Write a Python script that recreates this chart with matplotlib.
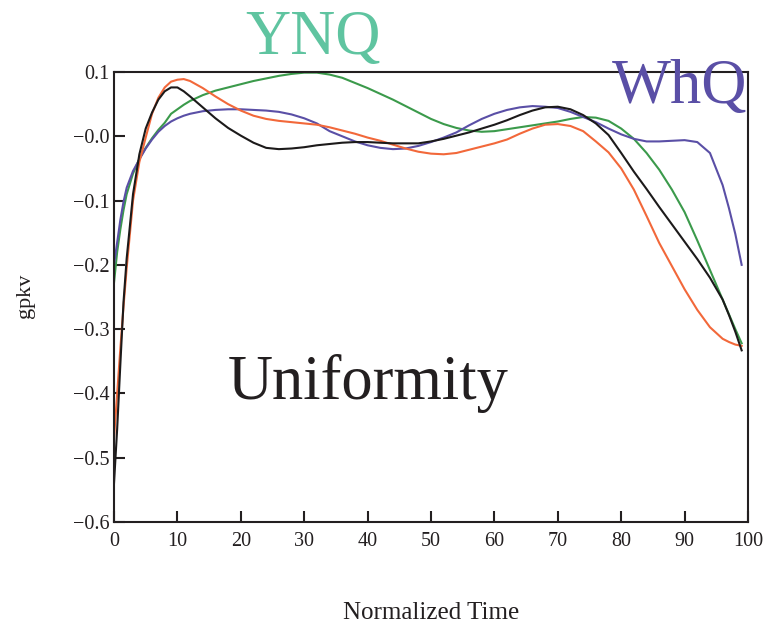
import matplotlib
matplotlib.use("Agg")
import matplotlib.pyplot as plt

plt.rcParams['font.family'] = ['Liberation Serif', 'DejaVu Serif']

# Normalized time samples shared by every curve
time = [0, 0.5, 1, 1.5, 2, 3, 4, 5, 6, 7, 8, 9, 10, 11, 12, 14, 16, 18, 20,
        22, 24, 26, 28, 30, 32, 34, 36, 38, 40, 42, 44, 46, 48, 50, 52, 54,
        56, 58, 60, 62, 64, 66, 68, 70, 72, 74, 76, 78, 80, 82, 84, 86, 88,
        90, 92, 94, 96, 97, 98, 99]

black_vals = [-0.540, -0.455, -0.355, -0.258, -0.190, -0.090, -0.028, 0.012,
              0.037, 0.057, 0.070, 0.076, 0.076, 0.070, 0.062, 0.045, 0.028,
              0.013, 0.001, -0.010, -0.018, -0.020, -0.019, -0.017, -0.014,
              -0.012, -0.010, -0.009, -0.009, -0.010, -0.011, -0.011, -0.011,
              -0.008, -0.004, 0.001, 0.006, 0.012, 0.018, 0.025, 0.033, 0.040,
              0.045, 0.046, 0.042, 0.033, 0.020, 0.002, -0.026, -0.055,
              -0.082, -0.110, -0.137, -0.164, -0.191, -0.220, -0.254, -0.278,
              -0.304, -0.333]

orange_vals = [-0.470, -0.400, -0.330, -0.265, -0.205, -0.100, -0.040, -0.002,
               0.035, 0.060, 0.076, 0.085, 0.088, 0.089, 0.086, 0.075, 0.062,
               0.050, 0.040, 0.032, 0.027, 0.024, 0.022, 0.020, 0.018, 0.014,
               0.009, 0.004, -0.002, -0.007, -0.013, -0.019, -0.024, -0.027,
               -0.028, -0.026, -0.021, -0.016, -0.011, -0.005, 0.004, 0.012,
               0.018, 0.019, 0.016, 0.008, -0.008, -0.025, -0.050, -0.083,
               -0.124, -0.166, -0.202, -0.238, -0.270, -0.297, -0.315, -0.320,
               -0.324, -0.326]

green_vals = [-0.228, -0.180, -0.145, -0.115, -0.090, -0.058, -0.035, -0.018,
              -0.003, 0.010, 0.021, 0.035, 0.042, 0.049, 0.055, 0.064, 0.071,
              0.076, 0.081, 0.086, 0.090, 0.094, 0.097, 0.099, 0.099, 0.096,
              0.091, 0.083, 0.075, 0.066, 0.057, 0.047, 0.037, 0.027, 0.019,
              0.013, 0.009, 0.007, 0.008, 0.011, 0.014, 0.017, 0.020, 0.023,
              0.027, 0.030, 0.029, 0.024, 0.012, -0.004, -0.026, -0.052,
              -0.083, -0.118, -0.162, -0.208, -0.254, -0.277, -0.300, -0.322]

blue_vals = [-0.200, -0.165, -0.130, -0.102, -0.080, -0.054, -0.036, -0.019,
             -0.005, 0.007, 0.016, 0.023, 0.028, 0.032, 0.035, 0.039, 0.041,
             0.042, 0.042, 0.041, 0.040, 0.038, 0.034, 0.028, 0.020, 0.008,
             0.000, -0.008, -0.014, -0.018, -0.020, -0.019, -0.015, -0.009,
             -0.002, 0.006, 0.017, 0.027, 0.035, 0.041, 0.045, 0.047, 0.046,
             0.044, 0.038, 0.030, 0.022, 0.012, 0.003, -0.004, -0.008,
             -0.008, -0.007, -0.006, -0.009, -0.026, -0.076, -0.112, -0.152,
             -0.200]

x_ticks = [0, 10, 20, 30, 40, 50, 60, 70, 80, 90, 100]
y_ticks = [0.1, 0.0, -0.1, -0.2, -0.3, -0.4, -0.5, -0.6]
y_tick_labels = ["0.1", "\u22120.0", "\u22120.1", "\u22120.2", "\u22120.3",
                 "\u22120.4", "\u22120.5", "\u22120.6"]

ink = "#231f20"
series = [
    (green_vals, "#3b9a4b"),
    (blue_vals, "#5a4fa6"),
    (orange_vals, "#f2683a"),
    (black_vals, "#1c1a1a"),
]

fig = plt.figure(figsize=(7.66, 6.23), dpi=100)
ax = fig.add_axes([114 / 766, 1 - 522 / 623, 634 / 766, 450 / 623])

for vals, color in series:
    ax.plot(time, vals, color=color, lw=1.5, solid_joinstyle="round")

ax.set_xlim(0, 100)
ax.set_ylim(-0.6, 0.1)
ax.set_xticks(x_ticks)
ax.set_xticklabels([str(t) for t in x_ticks])
ax.set_yticks(y_ticks)
ax.set_yticklabels(y_tick_labels)

for side in ["left", "bottom", "top", "right"]:
    ax.spines[side].set_linewidth(1.5)
    ax.spines[side].set_color(ink)

ax.tick_params(axis="both", direction="in", length=8, width=1.5,
               colors=ink, labelsize=14.5)
ax.tick_params(axis="x", pad=7)
ax.tick_params(axis="y", pad=3.5)

# Axis titles
fig.text(25 / 766, 1 - 296 / 623, "gpkv", rotation=90, ha="center",
         va="center", fontsize=16, color=ink)
fig.text(431 / 766, 1 - 619 / 623, "Normalized Time", ha="center",
         va="baseline", fontsize=18, color=ink)

# Large annotations
fig.text(313 / 766, 1 - 54 / 623, "YNQ", ha="center", va="baseline",
         fontsize=45, color="#5fc4a0")
fig.text(680 / 766, 1 - 103 / 623, "WhQ", ha="center", va="baseline",
         fontsize=45, color="#5a4fa6")
fig.text(368 / 766, 1 - 399 / 623, "Uniformity", ha="center",
         va="baseline", fontsize=45, color=ink)

fig.savefig("out.png", dpi=100)
